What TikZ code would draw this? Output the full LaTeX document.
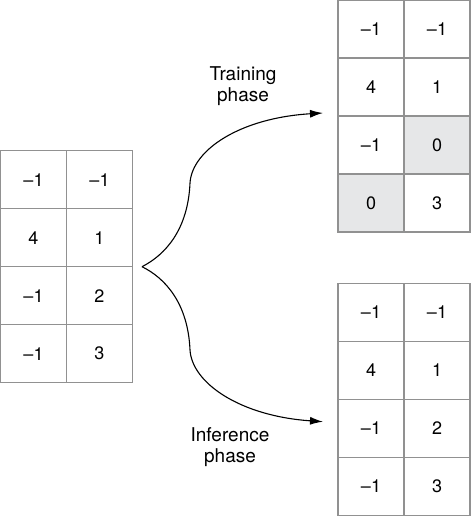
\documentclass[tikz,border=0pt]{standalone}
\usepackage{fontspec}
\setmainfont{TeX Gyre Heros}
\usetikzlibrary{arrows.meta}

\definecolor{gridgray}{RGB}{145,145,145}
\definecolor{maskgray}{RGB}{230,231,232}

\tikzset{
  cell/.style={draw=gridgray, line width=1.2pt, minimum width=66pt, minimum height=58pt,
    inner sep=0pt, font=\fontsize{18}{21}\selectfont},
  masked/.style={cell, fill=maskgray},
  phase/.style={align=center, font=\fontsize{19}{21}\selectfont},
  flow/.style={-{Latex[length=13pt,width=8pt]}, line width=1.1pt}
}

\begin{document}
\begin{tikzpicture}[x=1pt, y=1pt]
    \useasboundingbox (0,0) rectangle (471,516);

    % input table
    \foreach \r/\a/\b in {1/--1/--1, 2/4/1, 3/--1/2, 4/--1/3} {
        \node[cell] (in-\r-1) at (33.5, {336.3-58*(\r-1)}) {\a};
        \node[cell] (in-\r-2) at (99.5, {336.3-58*(\r-1)}) {\b};
    }

    % training table (with masked cells)
    \foreach \r/\a/\b/\sa/\sb in {1/--1/--1/cell/cell, 2/4/1/cell/cell,
                                  3/--1/0/cell/masked, 4/0/3/masked/cell} {
        \node[\sa] (train-\r-1) at (371, {487-58*(\r-1)}) {\a};
        \node[\sb] (train-\r-2) at (437, {487-58*(\r-1)}) {\b};
    }

    % inference table
    \foreach \r/\a/\b in {1/--1/--1, 2/4/1, 3/--1/2, 4/--1/3} {
        \node[cell] (infer-\r-1) at (371, {203.5-58*(\r-1)}) {\a};
        \node[cell] (infer-\r-2) at (437, {203.5-58*(\r-1)}) {\b};
    }

    % split point and arrow ends
    \coordinate (split) at (142,249.3);
    \coordinate (trainend) at (323,403);
    \coordinate (inferend) at (323,94.3);

    \draw[flow] (split) .. controls (165,261) and (188,286) .. (190,333)
                        .. controls (192,366) and (240,398) .. (trainend);
    \draw[flow] (split) .. controls (165,238) and (188,213) .. (190,166)
                        .. controls (192,133) and (240,100) .. (inferend);

    \node[phase] (trainlabel) at (243,430) {Training\\phase};
    \node[phase] (inferlabel) at (230,68.5) {Inference\\phase};
\end{tikzpicture}
\end{document}
